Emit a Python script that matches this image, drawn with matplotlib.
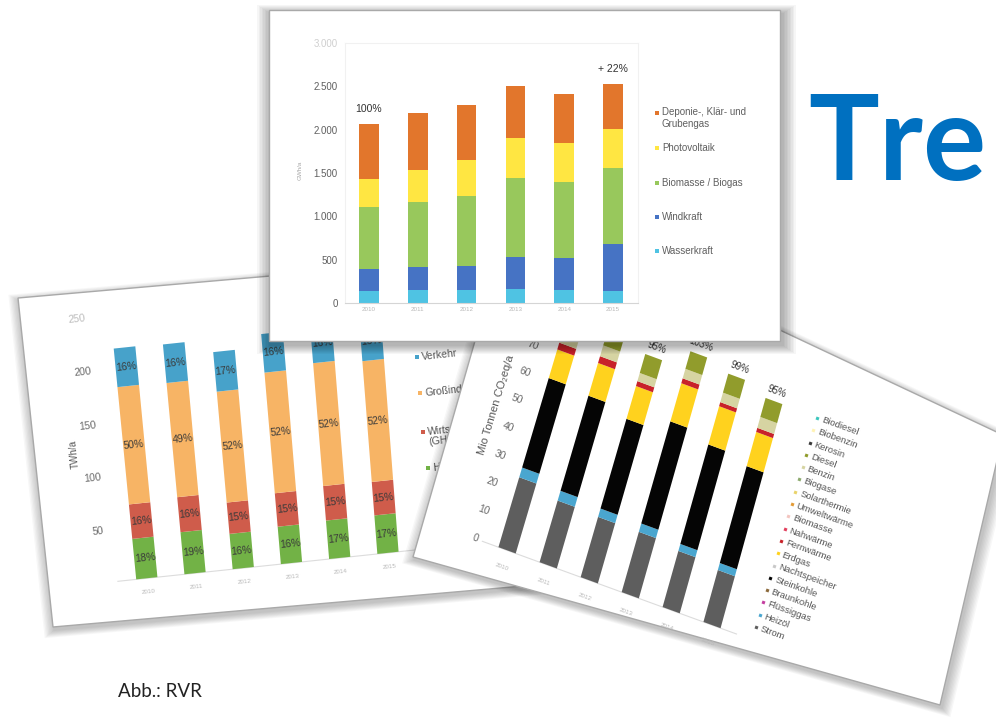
import numpy as np
import matplotlib
matplotlib.use("Agg")
import matplotlib.pyplot as plt
from matplotlib import transforms as mtransforms
from matplotlib.patches import Polygon

plt.rcParams['font.family'] = ['Liberation Sans', 'DejaVu Sans']

W_PX, H_PX, DPI = 996, 725, 100

# ---------------- data ----------------
years = ["2010", "2011", "2012", "2013", "2014", "2015"]

# top card: renewable electricity (GWh/a)
ee_labels = ["Wasserkraft", "Windkraft", "Biomasse / Biogas", "Photovoltaik",
             "Deponie-, Klär- und\nGrubengas"]
wasserkraft = [133, 148, 152, 156, 148, 144]
windkraft = [255, 262, 270, 376, 369, 536]
biomasse = [714, 753, 809, 916, 881, 874]
photovoltaik = [327, 376, 418, 456, 453, 449]
deponiegas = [634, 657, 635, 596, 562, 524]
ee_ticks = [0, 500, 1000, 1500, 2000, 2500, 3000]
ee_tick_labels = ["0", "500", "1.000", "1.500", "2.000", "2.500", "3.000"]
ee_notes = ["100%", "", "", "", "", "+ 22%"]

# left card: final energy by sector (TWh/a)
sec_labels = ["Haushalte", "Wirtschaft\n(GHD)", "Großindustrie", "Verkehr"]
haushalte = [39, 40.5, 34, 36, 37, 37]
wirtschaft = [33, 33.5, 30, 32, 33, 32]
grossindustrie = [111, 108, 105, 114, 116, 114]
verkehr = [36, 36, 37, 36, 36, 36]
pct_haushalte = ["18%", "19%", "16%", "16%", "17%", "17%"]
pct_wirtschaft = ["16%", "16%", "15%", "15%", "15%", "15%"]
pct_gross = ["50%", "49%", "52%", "52%", "52%", "52%"]
pct_verkehr = ["16%", "16%", "17%", "16%", "16%", "16%"]
sec_ticks = [50, 100, 150, 200, 250]

# bottom-right card: CO2 emissions (Mio t CO2eq/a)
co2_labels = ["Strom", "Heizöl", "Flüssiggas", "Braunkohle", "Steinkohle",
              "Nachtspeicher", "Erdgas", "Fernwärme", "Nahwärme", "Biomasse",
              "Umweltwärme", "Solarthermie", "Biogase", "Benzin", "Diesel",
              "Kerosin", "Biobenzin", "Biodiesel"]
strom = [25, 22, 21.5, 21.5, 20, 18.5]
heizoel = [3.5, 3.5, 3, 3, 2.5, 2.5]
fluessiggas = [0, 0, 0, 0, 0, 0]
braunkohle = [0, 0, 0, 0, 0, 0]
steinkohle = [32.5, 34.5, 32.5, 37, 36, 35]
nachtspeicher = [0, 0, 0, 0, 0, 0]
erdgas = [10.5, 12, 12, 14, 14, 12.5]
fernwaerme = [2.5, 2.5, 1.8, 1.8, 1.5, 1.5]
nahwaerme = [0, 0, 0, 0, 0, 0]
biomasse_w = [0, 0, 0, 0, 0, 0]
umweltwaerme = [0, 0, 0, 0, 0, 0]
solarthermie = [0, 0, 0, 0, 0, 0]
biogase = [0, 0, 0, 0, 0, 0]
benzin = [4, 4, 3, 3.5, 3.5, 4]
diesel = [7, 7, 7, 6.5, 7, 7]
kerosin = [0, 0, 0, 0, 0, 0]
biobenzin = [0, 0, 0, 0, 0, 0]
biodiesel = [0, 0, 0, 0, 0, 0]
co2_ticks = [0, 10, 20, 30, 40, 50, 60, 70]
co2_notes = ["100%", "101%", "95%", "103%", "99%", "95%"]

# ---------------- styles ----------------
ee_colors = ['#4FC3E3', '#4673C4', '#98C85C', '#FFE642', '#E2762C']
sec_colors = ['#72B246', '#CF5C4B', '#F7B465', '#47A2CA']
co2_colors = ['#5E5E5E', '#4AA6CF', '#C43FA0', '#8C6A3C', '#050505', '#C9C9C9',
              '#FFD21E', '#C8222A', '#E2405E', '#F3C5C0', '#E39B38', '#E9D36B',
              '#8DAA6E', '#D6D4A2', '#919C2C', '#3A3A3A', '#FFF3B5', '#3CC6BD']


class Persp(mtransforms.Transform):
    """Projective (homography) transform used to lay the photographed cards."""
    input_dims = 2
    output_dims = 2
    is_separable = False
    has_inverse = True

    def __init__(self, H):
        super().__init__()
        self.H = np.asarray(H, float)

    def transform_non_affine(self, values):
        v = np.asarray(values, float)
        shp = v.shape
        v = v.reshape(-1, 2)
        p = v @ self.H[:, :2].T + self.H[:, 2]
        out = p[:, :2] / p[:, 2:3]
        return out.reshape(shp)

    def inverted(self):
        return Persp(np.linalg.inv(self.H))


def fit_h(src, dst):
    rows, rhs = [], []
    for (u, v), (x, y) in zip(src, dst):
        rows.append([u, v, 1, 0, 0, 0, -u * x, -v * x]); rhs.append(x)
        rows.append([0, 0, 0, u, v, 1, -u * y, -v * y]); rhs.append(y)
    p = np.linalg.lstsq(np.array(rows, float), np.array(rhs, float), rcond=None)[0]
    return np.append(p, 1.0).reshape(3, 3)


fig = plt.figure(figsize=(W_PX / DPI, H_PX / DPI), dpi=DPI)
fig.patch.set_facecolor('white')
bg = fig.add_axes([0, 0, 1, 1])
bg.set_xlim(0, W_PX)
bg.set_ylim(H_PX, 0)
bg.axis('off')
bg.set_zorder(0)


def draw_card(corners, z, off=(1.5, 3.0), nshadow=8, step=1.6, alpha=0.03):
    c = np.asarray(corners, float)
    cen = c.mean(axis=0)
    d = c - cen
    n = d / np.linalg.norm(d, axis=1, keepdims=True)
    for k in range(nshadow, 0, -1):
        sh = c + n * (k * step) + np.array(off)
        bg.add_patch(Polygon(sh, closed=True, fc='black', ec='none', alpha=alpha, zorder=z))
    bg.add_patch(Polygon(c, closed=True, fc='white', ec='#a9a9a9', lw=1.0, zorder=z + 0.01))


def angle(T, x, y, dx, dy):
    p0 = T.transform((x, y))
    p1 = T.transform((x + dx, y + dy))
    return np.degrees(np.arctan2(p1[1] - p0[1], p1[0] - p0[0]))


xs = np.arange(6)

# ================= LEFT CARD (sector energy) =================
draw_card([(18, 298), (53, 627), (535, 585), (500, 256)], 1.0)
H_left = fit_h([(0, 0), (5, 0), (0, 219), (5, 183), (-0.9, 50), (-0.9, 200)],
               [(147, 578), (388, 553), (125, 347), (373, 360), (98, 531), (82, 373)])
T_left = Persp(H_left) + bg.transData
a_left = angle(T_left, 2.5, 0, 1, 0)
av_left = angle(T_left, -1.2, 125, 0, 1)

bg.plot([-0.6, 5.6], [0, 0], transform=T_left, color='#dcdcdc', lw=0.8, zorder=1.05)
bot = np.zeros(6)
for vals, col, pcts in zip([haushalte, wirtschaft, grossindustrie, verkehr], sec_colors,
                           [pct_haushalte, pct_wirtschaft, pct_gross, pct_verkehr]):
    vals = np.asarray(vals, float)
    bg.bar(xs, vals, width=0.44, bottom=bot, color=col, transform=T_left, zorder=1.1)
    for i in range(6):
        bg.text(xs[i], bot[i] + vals[i] / 2, pcts[i], transform=T_left, rotation=a_left,
                rotation_mode='anchor', ha='center', va='center', fontsize=7.5,
                color='#3a3a3a', zorder=1.2)
    bot += vals
for t in sec_ticks:
    bg.text(-0.9, t, str(t), transform=T_left, rotation=a_left, rotation_mode='anchor',
            ha='center', va='center', fontsize=7.5,
            color='#bdbdbd' if t == 250 else '#6a6a6a', zorder=1.2)
for i in range(6):
    bg.text(xs[i], -13, years[i], transform=T_left, rotation=a_left, rotation_mode='anchor',
            ha='center', va='center', fontsize=4.5, color='#b8b8b8', zorder=1.2)
bg.text(-1.22, 125, "TWh/a", transform=T_left, rotation=av_left, rotation_mode='anchor',
        ha='center', va='center', fontsize=7, color='#555555', zorder=1.2)
sec_leg_xy = [(428, 468), (423, 432), (420, 393), (417, 357)]
for (lx, ly), lab, col in zip(sec_leg_xy, sec_labels, sec_colors):
    bg.scatter([lx], [ly], s=7, marker='s', color=col, zorder=1.2, linewidths=0)
    bg.text(lx + 5, ly + (5 if '\n' in lab else 0), lab, rotation=a_left, rotation_mode='anchor',
            ha='left', va='center', fontsize=7.5, color='#555555', zorder=1.2, linespacing=1.1)

# ================= BOTTOM-RIGHT CARD (CO2) =================
draw_card([(514, 205), (413, 557), (940, 705), (1003, 435)], 2.0)
H_co2 = fit_h([(0, 0), (5, 0), (-0.78, 0), (-0.78, 70), (5, 81)],
              [(507, 551), (712, 625), (475, 538), (533, 345), (774, 401)])
T_co2 = Persp(H_co2) + bg.transData
a_co2 = angle(T_co2, 2.5, 0, 1, 0)
av_co2 = angle(T_co2, -1.2, 45, 0, 1)

co2_series = [strom, heizoel, fluessiggas, braunkohle, steinkohle, nachtspeicher, erdgas,
              fernwaerme, nahwaerme, biomasse_w, umweltwaerme, solarthermie, biogase,
              benzin, diesel, kerosin, biobenzin, biodiesel]
bg.plot([-0.6, 5.6], [0, 0], transform=T_co2, color='#dcdcdc', lw=0.8, zorder=2.05)
bot = np.zeros(6)
for vals, col in zip(co2_series, co2_colors):
    vals = np.asarray(vals, float)
    bg.bar(xs, vals, width=0.42, bottom=bot, color=col, transform=T_co2, zorder=2.1)
    bot += vals
for i in range(6):
    bg.text(xs[i], bot[i] + 3.5, co2_notes[i], transform=T_co2, rotation=a_co2,
            rotation_mode='anchor', ha='center', va='center', fontsize=7,
            color='#333333', zorder=2.2)
    bg.text(xs[i], -6, years[i], transform=T_co2, rotation=a_co2, rotation_mode='anchor',
            ha='center', va='center', fontsize=4.5, color='#b8b8b8', zorder=2.2)
for t in co2_ticks:
    bg.text(-0.78, t, str(t), transform=T_co2, rotation=a_co2, rotation_mode='anchor',
            ha='center', va='center', fontsize=7.5, color='#6a6a6a', zorder=2.2)
bg.text(-1.19, 45.7, "Mio Tonnen CO₂eq/a", transform=T_co2, rotation=av_co2,
        rotation_mode='anchor', ha='center', va='center', fontsize=8, color='#555555',
        zorder=2.2)
leg_top = np.array([817.0, 418.0])
leg_bot = np.array([756.0, 627.0])
dirv = np.array([np.cos(np.radians(a_co2)), -np.sin(np.radians(a_co2))])
nleg = len(co2_labels)
for k, (lab, col) in enumerate(zip(co2_labels[::-1], co2_colors[::-1])):
    p = leg_top + (leg_bot - leg_top) * k / (nleg - 1)
    bg.scatter([p[0]], [p[1]], s=10, marker=(4, 0, 45 + a_co2), color=col, zorder=2.2,
               linewidths=0)
    q = p + dirv * 5
    bg.text(q[0], q[1], lab, rotation=a_co2, rotation_mode='anchor', ha='left', va='center',
            fontsize=6.8, color='#555555', zorder=2.2)

# ================= TOP CARD (renewables) =================
draw_card([(269, 10), (269, 341), (780, 341), (780, 10)], 3.0, off=(2.0, 4.0),
          nshadow=9, step=1.8, alpha=0.035)

tx = fig.add_axes([344.5 / W_PX, 1 - 303 / H_PX, 293 / W_PX, 260 / H_PX])
tx.set_zorder(1)
tx.patch.set_alpha(0)
bot = np.zeros(6)
for vals, col, lab in zip([wasserkraft, windkraft, biomasse, photovoltaik, deponiegas],
                          ee_colors, ee_labels):
    vals = np.asarray(vals, float)
    tx.bar(xs, vals, 0.4, bottom=bot, color=col, label=lab, zorder=2)
    bot += vals
for i in range(6):
    if ee_notes[i]:
        tx.annotate(ee_notes[i], (xs[i], bot[i]), xytext=(0, 7), textcoords='offset points',
                    ha='center', va='bottom', fontsize=7.5, color='#333333')
tx.set_xlim(-0.5, 5.5)
tx.set_ylim(0, 3000)
tx.set_yticks(ee_ticks, ee_tick_labels, fontsize=7, color='#5f5f5f')
tx.get_yticklabels()[-1].set_color('#cfcfcf')
tx.set_xticks(xs, years, fontsize=4.5, color='#b8b8b8')
tx.tick_params(length=0)
tx.tick_params(axis='y', pad=5)
tx.tick_params(axis='x', pad=3)
for side in ['left', 'right', 'top']:
    tx.spines[side].set_color('#f1f1f1')
tx.spines['bottom'].set_color('#d5d5d5')
tx.set_ylabel('GWh/a', fontsize=4.5, color='#a8a8a8')
tx.yaxis.set_label_coords(-0.142, 0.51)

clip = mtransforms.Bbox.from_extents(0, 0, 749, H_PX)
leg_y = [251, 217, 183, 148, 113]
for y, lab, col in zip(leg_y, ee_labels, ee_colors):
    ya = (303 - y) / 260
    tx.scatter([(657 - 344.5) / 293], [ya], s=7, marker='s', color=col,
               transform=tx.transAxes, clip_on=False, linewidths=0)
    t = tx.text((662 - 344.5) / 293, ya, lab, transform=tx.transAxes, ha='left',
                va='top' if '\n' in lab else 'center', fontsize=7, color='#5f5f5f',
                linespacing=1.25)
    if '\n' in lab:
        t.set_y(ya + 6 / 260)
    t.set_clip_box(clip)
    t.set_clip_on(True)

# ================= headline & credit =================
fig.text(808 / W_PX, 1 - 180 / H_PX, "Tre", fontsize=85, fontweight='bold',
         family='Lato', color='#0070C0', ha='left', va='baseline')
fig.text(118 / W_PX, 1 - 697 / H_PX, "Abb.: RVR", fontsize=13.5, family='Lato',
         color='#222222', ha='left', va='baseline')

fig.savefig("out.png", dpi=DPI)
